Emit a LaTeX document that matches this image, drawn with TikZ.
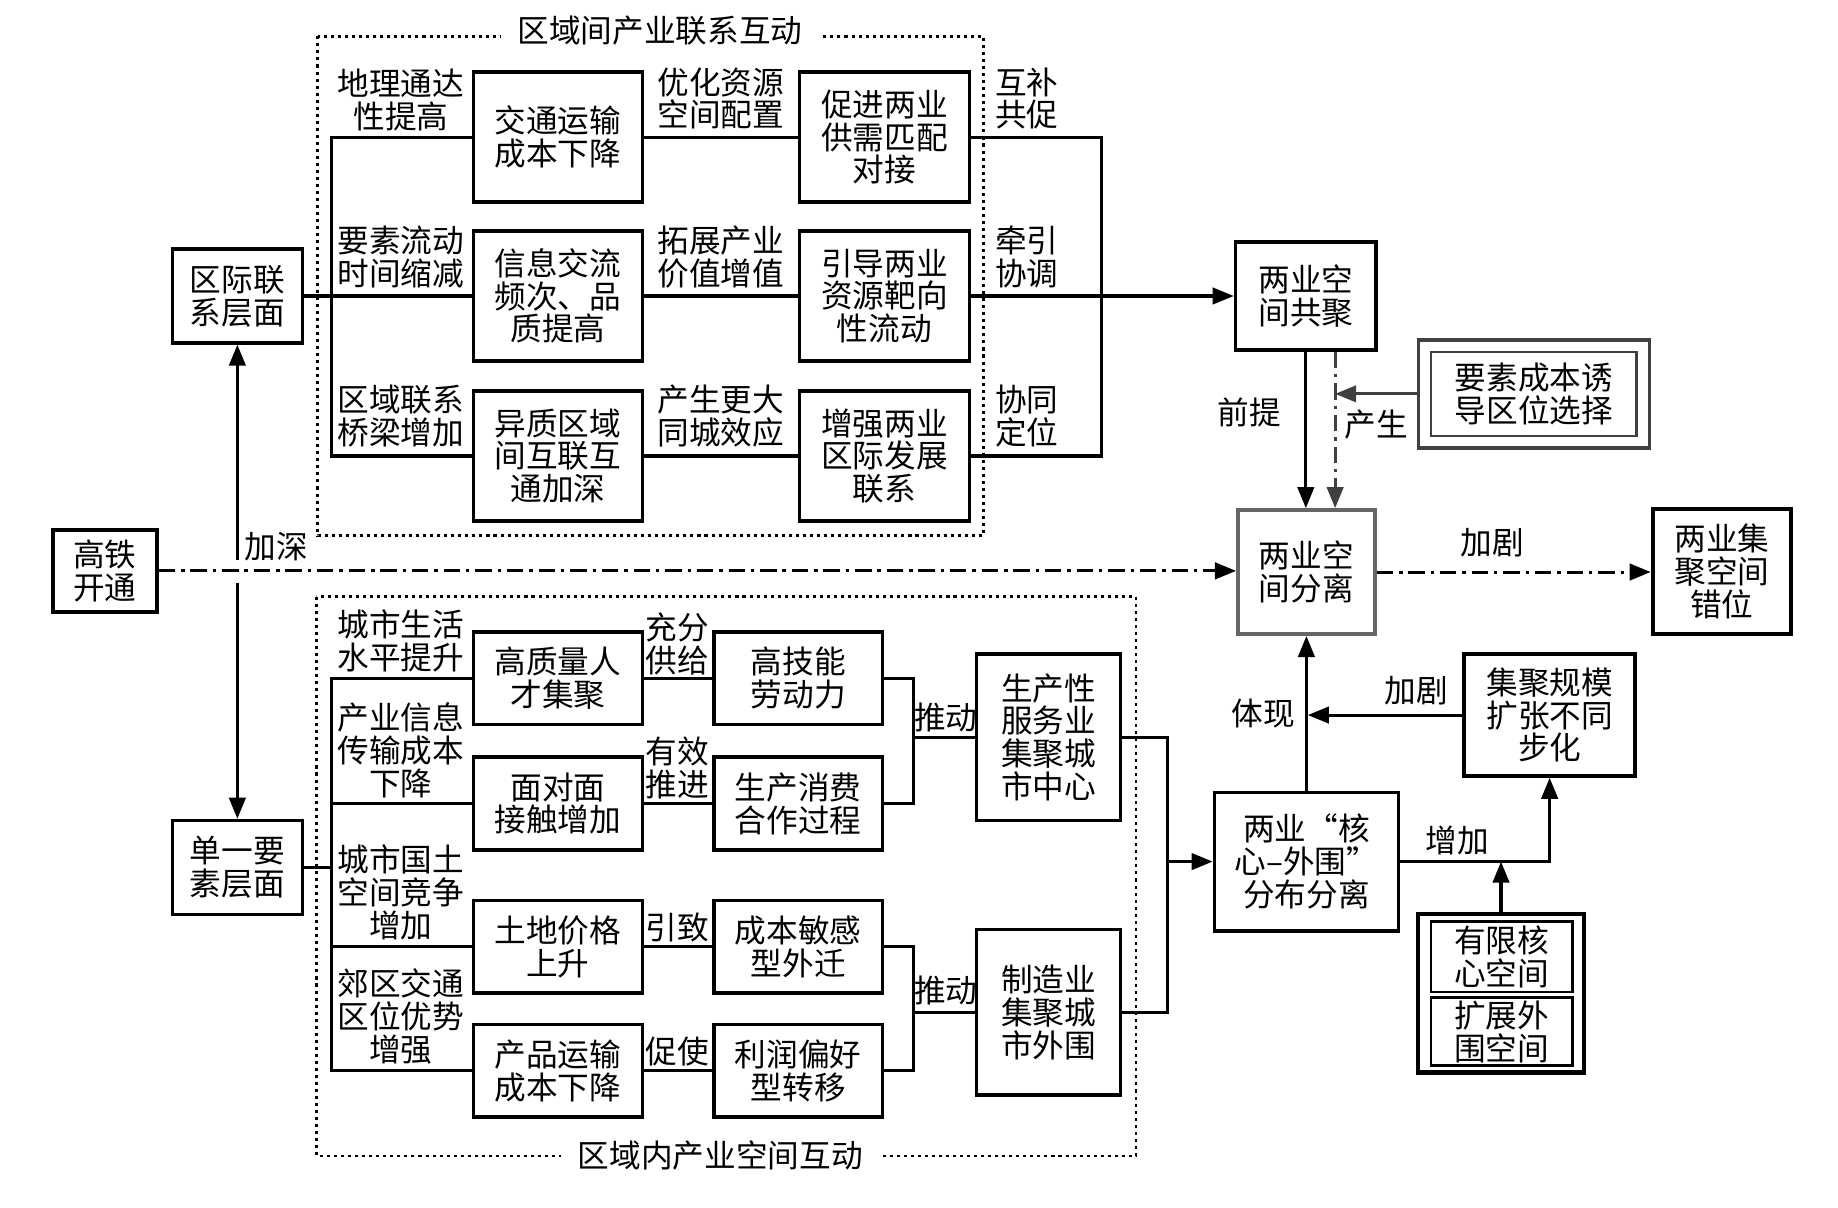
\documentclass[tikz,border=0pt]{standalone}
\usepackage{fontspec}
\newfontfamily\cjk{Noto Sans CJK SC}
\usetikzlibrary{arrows.meta}

\tikzset{
  wh/.style 2 args={minimum width=#1*0.5pt, minimum height=#2*0.5pt},
  blk/.style={draw, line width=1.5pt, inner sep=0pt, align=center, font=\cjk\fontsize{13.5}{14}\selectfont},
  lbl/.style={inner sep=0pt, align=center, font=\cjk\fontsize{13.5}{14}\selectfont},
  ttl/.style={lbl, fill=white, inner xsep=7pt, inner ysep=3pt},
  ln/.style={line width=1.3pt},
  arr/.style={ln, -{Triangle[length=9pt, width=7pt]}},
  rarr/.style={ln, {Triangle[length=9pt, width=7pt]}-},
  dashdot/.style={dash pattern=on 7pt off 2.5pt on 1.5pt off 2.5pt},
  frame/.style={line width=1.3pt, dash pattern=on 1.3pt off 1.7pt},
}

\begin{document}
\begin{tikzpicture}[x=0.5pt, y=-0.5pt]
    \useasboundingbox (0,0) rectangle (1568,1030);
    % left column
    \node[blk, wh={89}{70}] (gtkt) at (89.5,487) {高铁\\开通};
    \node[blk, wh={111}{80}] (qjlx) at (202.5,252.5) {区际联\\系层面};
    \node[blk, wh={111}{80}] (dyys) at (202.5,740) {单一要\\素层面};
    % inter-regional group
    \draw[frame] (271,31) rectangle (839,457);
    \node[ttl] (tinter) at (563,26) {区域间产业联系互动};
    \node[blk, wh={144}{111}] (jtys) at (476,117) {交通运输\\成本下降};
    \node[blk, wh={144}{111}] (xxjl) at (476,252.5) {信息交流\\频次、品\\质提高};
    \node[blk, wh={144}{111}] (yzqy) at (476,389) {异质区域\\间互联互\\通加深};
    \node[blk, wh={145}{111}] (cjly) at (754.5,117) {促进两业\\供需匹配\\对接};
    \node[blk, wh={145}{111}] (ydly) at (754.5,252.5) {引导两业\\资源靶向\\性流动};
    \node[blk, wh={145}{111}] (zqly) at (754.5,389) {增强两业\\区际发展\\联系};
    \node[lbl] (ldl) at (342,85) {地理通达\\性提高};
    \node[lbl] (lys) at (342,219) {要素流动\\时间缩减};
    \node[lbl] (lqy) at (342,355) {区域联系\\桥梁增加};
    \node[lbl] (lyh) at (615,84) {优化资源\\空间配置};
    \node[lbl] (ltz) at (615,219) {拓展产业\\价值增值};
    \node[lbl] (lcs) at (615,355) {产生更大\\同城效应};
    \node[lbl] (lhb) at (876,84) {互补\\共促};
    \node[lbl] (lqx) at (876,219) {牵引\\协调};
    \node[lbl] (lxt) at (876,355) {协同\\定位};
    \coordinate (tbx) at (283,0);
    \coordinate (trx) at (940,0);
    \draw[ln] (qjlx.east) -- (xxjl.west);
    \draw[ln] (jtys.west) -- (jtys.west -| tbx) -- (yzqy.west -| tbx) -- (yzqy.west);
    \draw[ln] (jtys.east) -- (cjly.west);
    \draw[ln] (xxjl.east) -- (ydly.west);
    \draw[ln] (yzqy.east) -- (zqly.west);
    \draw[ln] (cjly.east) -- (cjly.east -| trx) -- (zqly.east -| trx) -- (zqly.east);
    % right column
    \node[blk, wh={120}{92}] (gjgj) at (1114,252.5) {两业空\\间共聚};
    \node[blk, draw=black!75, wh={197}{92}] (yscb) at (1308.5,336) {};
    \node[blk, draw=black!75, line width=1pt, wh={175}{72}] (yscbin) at (yscb) {要素成本诱\\导区位选择};
    \node[blk, draw=black!60, wh={117}{106}] (fl) at (1114.5,488) {两业空\\间分离};
    \node[blk, line width=1.8pt, wh={118}{107}] (cw) at (1469,487.5) {两业集\\聚空间\\错位};
    \node[blk, wh={157}{118}] (hxwy) at (1114.5,735) {两业“核\\心–外围”\\分布分离};
    \node[blk, wh={146}{104}] (jjgm) at (1322,610) {集聚规模\\扩张不同\\步化};
    \node[blk, line width=1.8pt, wh={141}{135}] (yxhx) at (1280.5,847.5) {};
    \node[blk, line width=1pt, wh={121}{60}] (yxhxa) at (1281,816) {有限核\\心空间};
    \node[blk, line width=1pt, wh={121}{58}] (kzwy) at (1281,880) {扩展外\\围空间};
    \node[lbl] (lqt) at (1066,352) {前提};
    \node[lbl] (lcsh) at (1174,362) {产生};
    \node[lbl] (ljs) at (236,466) {加深};
    \node[lbl] (ljj) at (1273,463) {加剧};
    \node[lbl] (ltx) at (1078,609) {体现};
    \node[lbl] (ljj2) at (1208,589) {加剧};
    \node[lbl] (lzj) at (1243,717) {增加};
    \coordinate (gx) at (1139,0);
    \coordinate (gapa) at (0,478);
    \coordinate (gapb) at (0,497);
    \draw[ln, dashdot, -{Triangle[length=9pt, width=7pt]}] (gtkt.east) -- (gtkt.east -| fl.west);
    \draw[rarr] (qjlx.south) -- (qjlx.south |- gapa);
    \draw[arr] (qjlx.south |- gapb) -- (dyys.north);
    \draw[arr] (gjgj.south) -- (gjgj.south |- fl.north);
    \draw[arr, dashdot, black!75] (gjgj.south -| gx) -- (fl.north -| gx);
    \draw[arr, black!75] (yscb.west) -- (yscb.west -| gx);
    \draw[arr] (ydly.east) -- (gjgj.west);
    \draw[ln, dashdot, -{Triangle[length=9pt, width=7pt]}] (fl.east) -- (fl.east -| cw.west);
    \draw[arr] (hxwy.north) -- (hxwy.north |- fl.south);
    \draw[arr, shorten >=0.6pt] (jjgm.west) -- (jjgm.west -| hxwy.north);
    \draw[arr] (hxwy.east) -| (jjgm.south);
    \draw[arr] (yxhx.north) -- (yxhx.north |- hxwy.east);
    % intra-regional group
    \draw[frame, line width=1pt] (270,509) rectangle (969,986);
    \node[ttl] (tintra) at (614.5,986) {区域内产业空间互动};
    \node[blk, wh={144}{79}] (gzl) at (476,578.5) {高质量人\\才集聚};
    \node[blk, wh={144}{79}] (mdm) at (476,685.5) {面对面\\接触增加};
    \node[blk, wh={144}{79}] (tdjg) at (476,807.5) {土地价格\\上升};
    \node[blk, wh={144}{79}] (cpys) at (476,913.5) {产品运输\\成本下降};
    \node[blk, wh={144}{79}] (gjn) at (681,578.5) {高技能\\劳动力};
    \node[blk, wh={144}{79}] (sxhz) at (681,685.5) {生产消费\\合作过程};
    \node[blk, wh={144}{79}] (cbmg) at (681,807.5) {成本敏感\\型外迁};
    \node[blk, wh={144}{79}] (lrph) at (681,913.5) {利润偏好\\型转移};
    \node[blk, wh={123}{142}] (scx) at (894.5,629) {生产性\\服务业\\集聚城\\市中心};
    \node[blk, wh={123}{141}] (zzy) at (894.5,863.5) {制造业\\集聚城\\市外围};
    \node[lbl] (lcssh) at (342,547) {城市生活\\水平提升};
    \node[lbl] (lcyxx) at (342,640) {产业信息\\传输成本\\下降};
    \node[lbl] (lcsgt) at (342,761) {城市国土\\空间竞争\\增加};
    \node[lbl] (ljqjt) at (342,867) {郊区交通\\区位优势\\增强};
    \node[lbl] (lcf) at (578,549) {充分\\供给};
    \node[lbl] (lyx) at (578,655) {有效\\推进};
    \node[lbl] (lyz) at (578,791) {引致};
    \node[lbl] (lcsi) at (578,897) {促使};
    \node[lbl] (ltd) at (807,612) {推动};
    \node[lbl] (ltd2) at (807,845) {推动};
    \coordinate (bbx) at (283,0);
    \coordinate (bmx) at (779,0);
    \coordinate (brx) at (996,0);
    \draw[ln] (dyys.east) -- (dyys.east -| bbx);
    \draw[ln] (gzl.west) -- (gzl.west -| bbx) -- (cpys.west -| bbx) -- (cpys.west);
    \draw[ln] (mdm.west) -- (mdm.west -| bbx);
    \draw[ln] (tdjg.west) -- (tdjg.west -| bbx);
    \draw[ln] (gzl.east) -- (gjn.west);
    \draw[ln] (mdm.east) -- (sxhz.west);
    \draw[ln] (tdjg.east) -- (cbmg.west);
    \draw[ln] (cpys.east) -- (lrph.west);
    \draw[ln] (gjn.east) -- (gjn.east -| bmx) -- (sxhz.east -| bmx) -- (sxhz.east);
    \draw[ln] (scx.west) -- (scx.west -| bmx);
    \draw[ln] (cbmg.east) -- (cbmg.east -| bmx) -- (lrph.east -| bmx) -- (lrph.east);
    \draw[ln] (zzy.west) -- (zzy.west -| bmx);
    \draw[ln] (scx.east) -- (scx.east -| brx) -- (zzy.east -| brx) -- (zzy.east);
    \draw[arr] (hxwy.west -| brx) -- (hxwy.west);
\end{tikzpicture}
\end{document}
